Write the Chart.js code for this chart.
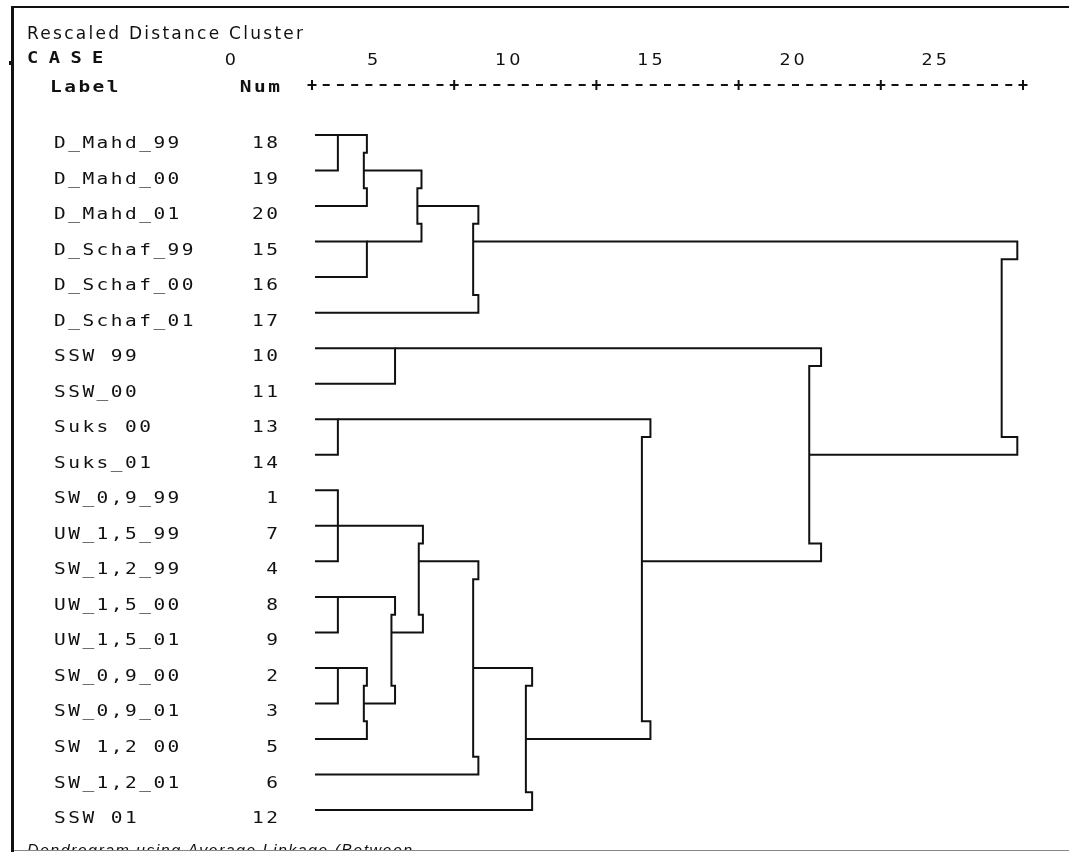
<!DOCTYPE html>
<html>
<head>
<meta charset="utf-8">
<script src="https://cdn.jsdelivr.net/npm/chart.js@4.4.1/dist/chart.umd.min.js"></script>
<style>
  html, body { margin: 0; padding: 0; background: #fff; }
  #wrap { width: 1069px; height: 852px; position: relative; }
</style>
</head>
<body>
<div id="wrap"><canvas id="c" width="1069" height="852"></canvas></div>
<script>
// Cases in dendrogram order (top to bottom) and their case numbers
const caseLabels = [
  'D_Mahd_99', 'D_Mahd_00', 'D_Mahd_01', 'D_Schaf_99', 'D_Schaf_00', 'D_Schaf_01',
  'SSW 99', 'SSW_00', 'Suks 00', 'Suks_01',
  'SW_0,9_99', 'UW_1,5_99', 'SW_1,2_99', 'UW_1,5_00', 'UW_1,5_01',
  'SW_0,9_00', 'SW_0,9_01', 'SW 1,2 00', 'SW_1,2_01', 'SSW 01'
];
const caseNums = [18, 19, 20, 15, 16, 17, 10, 11, 13, 14, 1, 7, 4, 8, 9, 2, 3, 5, 6, 12];

// Rescaled distance axis
const distanceTicks = [0, 5, 10, 15, 20, 25];

// Agglomeration steps: joined nodes (0-19 = cases by row, 20+ = earlier steps)
const mergeMembers = [
  [0, 1], [3, 4], [8, 9], [10, 11, 12], [13, 14], [15, 16],
  [20, 2], [25, 17], [6, 7], [24, 27], [26, 21], [23, 29],
  [30, 5], [31, 18], [33, 19], [22, 34], [28, 35], [32, 36]
];
// Rescaled distance at which each step joins
const mergeDistances = [
  0.91, 1.93, 0.91, 0.91, 0.91, 0.91,
  1.93, 1.93, 2.92, 2.92, 3.85, 3.9,
  5.85, 5.85, 7.74, 11.9, 17.9, 24.8
];

// ---- layout ----
const AREA = { left: 312, right: 1023, top: 84, bottom: 840 };
const ROW0_Y = 135, ROW_STEP = 35.53;
const unitPx = (AREA.right - AREA.left) / 25;
const yMin = -(ROW0_Y - AREA.top) / ROW_STEP;
const yMax = yMin + (AREA.bottom - AREA.top) / ROW_STEP;
const LEAF_START = 3 / unitPx;

// Build the bracket polylines of the tree
const rowOf = {}, startOf = {};
caseLabels.forEach((_, i) => { rowOf[i] = i; startOf[i] = LEAF_START; });
const bracketSets = mergeMembers.map((members, k) => {
  const id = caseLabels.length + k;
  const d = mergeDistances[k];
  const sorted = members.slice().sort((a, b) => rowOf[a] - rowOf[b]);
  const a = sorted[0], b = sorted[sorted.length - 1];
  const top = rowOf[a], bot = rowOf[b];
  let pts;
  if (members.length > 2) {
    pts = [[startOf[a], top], [d, top], [d, bot], [startOf[b], bot]];
    rowOf[id] = rowOf[sorted[1]];
    startOf[id] = startOf[sorted[1]];
  } else if (bot - top === 1) {
    pts = [[startOf[a], top], [d, top], [d, bot], [startOf[b], bot]];
    rowOf[id] = top;
    startOf[id] = d;
  } else {
    const j = (2 + 0.55 * d) / unitPx;
    pts = [[startOf[a], top], [d, top], [d, top + 0.5], [d - j, top + 0.5],
           [d - j, bot - 0.5], [d, bot - 0.5], [d, bot], [startOf[b], bot]];
    rowOf[id] = Math.floor((top + bot) / 2);
    startOf[id] = d - j;
  }
  return {
    data: pts.map(p => ({ x: p[0], y: p[1] })),
    showLine: true,
    borderColor: '#111',
    borderWidth: 2,
    borderJoinStyle: 'miter',
    borderCapStyle: 'butt',
    pointRadius: 0,
    fill: false,
    tension: 0,
    clip: false
  };
});

// Draw text in fixed-pitch cells, each glyph widened by sx
function pitched(ctx, text, x, y, pitch, align, sx) {
  sx = sx || 1;
  let x0 = x;
  if (align === 'right') {
    const last = ctx.measureText(text[text.length - 1]).width * sx;
    x0 = x - (text.length - 1) * pitch - last;
  }
  for (let i = 0; i < text.length; i++) {
    ctx.save();
    ctx.translate(x0 + i * pitch, y);
    ctx.scale(sx, 1);
    ctx.fillText(text[i], 0, 0);
    ctx.restore();
  }
}
function fitted(ctx, text, x, y, width) {
  ctx.letterSpacing = '0px';
  const w = ctx.measureText(text).width;
  const sp = (width - w) / (text.length - 1);
  ctx.letterSpacing = sp.toFixed(2) + 'px';
  ctx.fillText(text, x, y);
  ctx.letterSpacing = '0px';
}

const frameText = {
  id: 'frameText',
  afterDraw(chart) {
    const ctx = chart.ctx, xs = chart.scales.x, ys = chart.scales.y;
    ctx.save();
    ctx.fillStyle = '#111';
    ctx.textBaseline = 'alphabetic';
    ctx.textAlign = 'left';

    // frame
    ctx.fillRect(11, 6, 1069 - 11, 2);
    ctx.fillRect(11, 6, 3, 852 - 6);
    ctx.fillRect(9, 61, 2, 4);

    // header lines
    ctx.font = '17px "DejaVu Sans"';
    fitted(ctx, 'Rescaled Distance Cluster', 27, 39, 276);

    ctx.font = 'bold 15px "DejaVu Sans Mono"';
    pitched(ctx, 'CASE', 27, 63, 21.7, 'left', 1.25);
    pitched(ctx, 'Label', 50, 92, 14.2, 'left', 1.3);
    pitched(ctx, 'Num', 280, 92, 14.2, 'right', 1.3);

    // distance tick labels
    ctx.font = '16px "DejaVu Sans"';
    distanceTicks.forEach(v => {
      pitched(ctx, String(v), xs.getPixelForValue(v) - 76, 65, 14.2, 'right', 1.1);
    });

    // +---------+ axis
    const ay = 85;
    for (let i = 0; i < distanceTicks.length; i++) {
      const px = xs.getPixelForValue(distanceTicks[i]);
      ctx.fillRect(px - 4.5, ay - 1, 9, 2);
      ctx.fillRect(px - 1, ay - 5, 2, 10);
      if (i < distanceTicks.length - 1) {
        const nx = xs.getPixelForValue(distanceTicks[i + 1]);
        const step = (nx - px) / 10;
        for (let k = 1; k <= 9; k++) ctx.fillRect(px + k * step - 3.5, ay - 1, 7, 2);
      }
    }

    // case rows
    ctx.font = '15px "DejaVu Sans Mono"';
    caseLabels.forEach((lab, i) => {
      const y = ys.getPixelForValue(i) + 13;
      pitched(ctx, lab, 54, y, 14.2, 'left', 1.3);
      pitched(ctx, String(caseNums[i]), 278, y, 14.2, 'right', 1.3);
    });

    // footer caption, cut by the bottom rule
    ctx.font = 'italic 16px "Liberation Sans"';
    fitted(ctx, 'Dendrogram using Average Linkage (Between', 27, 856, 385);
    ctx.fillStyle = '#fff';
    ctx.fillRect(14, 850, 1069, 2);
    ctx.fillStyle = '#888';
    ctx.fillRect(14, 850, 1069, 1);
    ctx.restore();
  }
};

new Chart(document.getElementById('c'), {
  type: 'scatter',
  data: { datasets: bracketSets },
  options: {
    responsive: false,
    devicePixelRatio: 1,
    animation: false,
    events: [],
    layout: { padding: { left: AREA.left, right: 1069 - AREA.right, top: AREA.top, bottom: 852 - AREA.bottom } },
    scales: {
      x: { type: 'linear', min: 0, max: 25, display: false },
      y: { type: 'linear', min: yMin, max: yMax, reverse: true, display: false }
    },
    plugins: { legend: { display: false }, tooltip: { enabled: false }, title: { display: false } }
  },
  plugins: [frameText]
});
</script>
</body>
</html>
